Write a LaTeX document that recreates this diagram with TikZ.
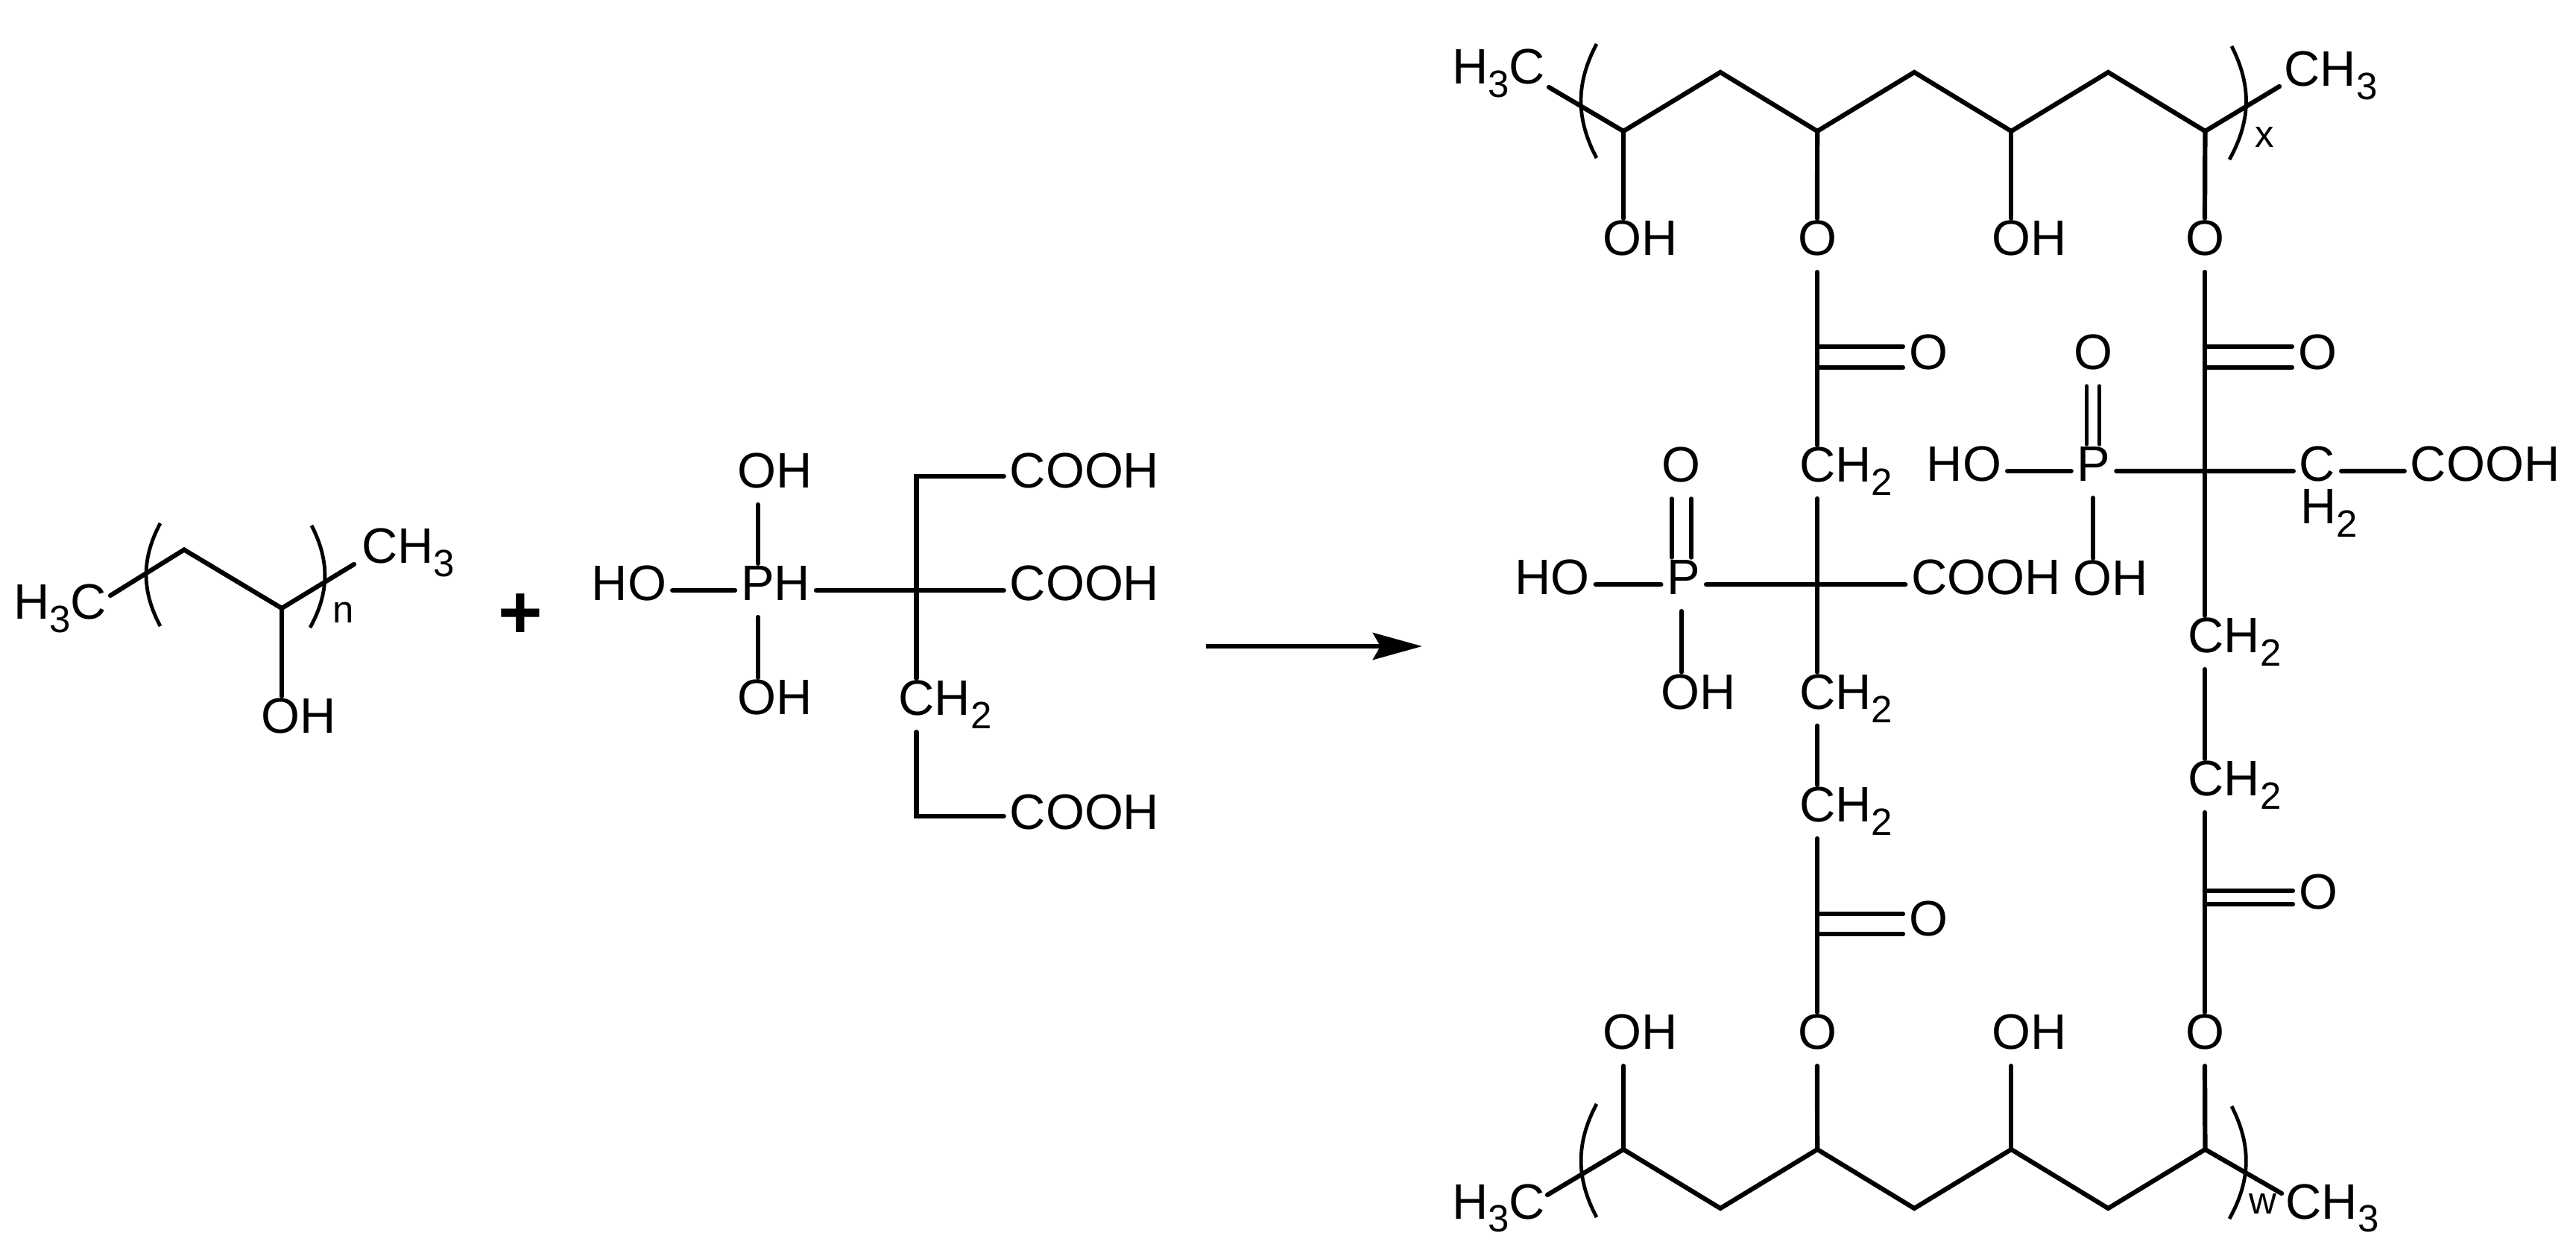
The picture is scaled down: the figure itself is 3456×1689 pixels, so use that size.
\documentclass[tikz,border=0pt]{standalone}
\usepackage{fontspec}
\setmainfont{Liberation Sans}
\usepackage{tikz}
\usetikzlibrary{positioning, arrows.meta}
\newcommand{\subnum}[1]{\raisebox{-0.175cm}{\fontsize{14.5}{16}\selectfont #1}}
\tikzset{
    atom_label/.style={
        font=\fontsize{19}{23}\selectfont,
        anchor=base,
        inner xsep=0.08cm,
        inner ysep=0pt,
        outer sep=0pt,
        text height=0.5cm,
        text depth=0.22cm
    },
    count_label/.style={
        font=\fontsize{14.5}{16}\selectfont,
        anchor=base,
        inner sep=0pt
    },
    plus_label/.style={
        font=\fontsize{29}{32}\selectfont\bfseries,
        inner sep=0pt
    },
    bond_line/.style={
        line width=0.062cm,
        line cap=round,
        line join=miter,
        draw=black
    },
    thin_bond/.style={
        bond_line,
        line width=0.055cm
    },
    bracket_arc/.style={
        line width=0.048cm,
        draw=black
    },
    reaction_arrow/.style={
        -{Stealth[length=0.66cm,width=0.36cm,inset=0.1cm]},
        line width=0.065cm,
        draw=black
    }
}
\begin{document}
\begin{tikzpicture}[x=0.01cm, y=-0.01cm, zig/.style={above right=0.79cm and 1.30cm of #1}, zag/.style={below right=0.79cm and 1.30cm of #1}]
    \useasboundingbox (0,0) rectangle (3456,1689);

    \node[atom_label] (a_h3c) at (80.5,831) {H\subnum{3}C};
    \node[atom_label] (a_ch3) at (547.5,756) {CH\subnum{3}};
    \node[atom_label] (a_oh) at (401,984) {OH};
    \node[count_label] (a_n) at (461,836) {n};
    \coordinate (a_e0) at (148,799);
    \coordinate (a_c1) at (247,737.5);
    \coordinate (a_c2) at (378,816);
    \coordinate (a_e1) at (475,757);
    \draw[bond_line] (a_e0) -- (a_c1) -- (a_c2) -- (a_e1);
    \draw[bond_line] (a_c2) edge (a_c2 |- a_oh.north);
    \coordinate (a_bl0) at (215,702);
    \coordinate (a_bl1) at (215,840);
    \coordinate (a_br0) at (418,705);
    \coordinate (a_br1) at (416,842);
    \draw[bracket_arc] (a_bl0) to[bend right=28] (a_bl1);
    \draw[bracket_arc] (a_br0) to[bend left=28] (a_br1);

    \node[plus_label] (plus) at (698,827) {+};

    \node[atom_label] (m_oh1) at (1040,655) {OH};
    \node[atom_label] (m_ho) at (844,806) {HO};
    \node[atom_label] (m_ph) at (1040.5,806) {PH};
    \node[atom_label] (m_oh2) at (1040,959) {OH};
    \node[atom_label] (m_ch2) at (1268,960) {CH\subnum{2}};
    \node[atom_label] (m_cooh1) at (1455,655) {COOH};
    \node[atom_label] (m_cooh2) at (1455,806) {COOH};
    \node[atom_label] (m_cooh3) at (1455,1112.5) {COOH};
    \coordinate (m_pc) at (1017,792);
    \coordinate (m_cc) at (1229.5,792);
    \coordinate (m_ct) at (1229.5,639);
    \coordinate (m_cb) at (1229.5,1095);
    \draw[bond_line]
        (m_ho) edge (m_ph)
        (m_ph) edge (m_cooh2)
        (m_oh1.south -| m_pc) edge (m_ph.north -| m_pc)
        (m_ph.south -| m_pc) edge (m_oh2.north -| m_pc);
    \draw[bond_line] (m_ct -| m_cooh1.west) -- (m_ct) -- (m_cc |- m_ch2.north);
    \draw[bond_line] (m_cc |- m_ch2.south) -- (m_cb) -- (m_cb -| m_cooh3.west);

    \coordinate (arrow_start) at (1618,867);
    \coordinate (arrow_end) at (1908,867);
    \draw[reaction_arrow] (arrow_start) -- (arrow_end);

    \coordinate (t0) at (2078,117);
    \coordinate (t1) at (2178,176);
    \coordinate[zig=t1] (t2);
    \coordinate[zag=t2] (t3);
    \coordinate[zig=t3] (t4);
    \coordinate[zag=t4] (t5);
    \coordinate[zig=t5] (t6);
    \coordinate[zag=t6] (t7);
    \coordinate (t8) at (3058,116);
    \draw[bond_line] (t0) -- (t1) -- (t2) -- (t3) -- (t4) -- (t5) -- (t6) -- (t7) -- (t8);

    \coordinate (b0) at (2076,1603);
    \coordinate (b1) at (2178,1542);
    \coordinate[zag=b1] (b2);
    \coordinate[zig=b2] (b3);
    \coordinate[zag=b3] (b4);
    \coordinate[zig=b4] (b5);
    \coordinate[zag=b5] (b6);
    \coordinate[zig=b6] (b7);
    \coordinate (b8) at (3061,1601);
    \draw[bond_line] (b0) -- (b1) -- (b2) -- (b3) -- (b4) -- (b5) -- (b6) -- (b7) -- (b8);

    \node[atom_label] (t_h3c) at (2010.5,113) {H\subnum{3}C};
    \node[atom_label] (t_ch3) at (3127,116) {CH\subnum{3}};
    \node[count_label] (t_x) at (3038,198) {x};
    \node[atom_label] (t_oh1) at (2201,343) {OH};
    \node[atom_label] (t_o1) at (2438,343) {O};
    \node[atom_label] (t_oh2) at (2722.5,343) {OH};
    \node[atom_label] (t_o2) at (2958,343) {O};

    \node[atom_label] (b_h3c) at (2010.5,1635) {H\subnum{3}C};
    \node[atom_label] (b_ch3) at (3129,1635) {CH\subnum{3}};
    \node[count_label] (b_w) at (3036,1628) {w};
    \node[atom_label] (b_oh1) at (2201,1408) {OH};
    \node[atom_label] (b_o1) at (2438,1408) {O};
    \node[atom_label] (b_oh2) at (2722.5,1408) {OH};
    \node[atom_label] (b_o2) at (2958,1408) {O};

    \draw[bond_line]
        (t1) edge (t1 |- t_oh1.north)
        (t3) edge (t_o1.north)
        (t5) edge (t5 |- t_oh2.north)
        (t7) edge (t_o2.north)
        (b1) edge (b1 |- b_oh1.south)
        (b3) edge (b_o1.south)
        (b5) edge (b5 |- b_oh2.south)
        (b7) edge (b_o2.south);

    \coordinate (t_bl0) at (2142,59);
    \coordinate (t_bl1) at (2142,212);
    \coordinate (t_br0) at (2994,62);
    \coordinate (t_br1) at (2991,214);
    \coordinate (b_bl0) at (2142,1481);
    \coordinate (b_bl1) at (2142,1633);
    \coordinate (b_br0) at (2994,1484);
    \coordinate (b_br1) at (2991,1635);
    \draw[bracket_arc] (t_bl0) to[bend right=28] (t_bl1);
    \draw[bracket_arc] (t_br0) to[bend left=28] (t_br1);
    \draw[bracket_arc] (b_bl0) to[bend right=28] (b_bl1);
    \draw[bracket_arc] (b_br0) to[bend left=28] (b_br1);

    \node[atom_label] (l_ch2a) at (2476.5,647) {CH\subnum{2}};
    \node[atom_label] (l_ch2b) at (2476.5,951.6) {CH\subnum{2}};
    \node[atom_label] (l_ch2c) at (2476.5,1103) {CH\subnum{2}};
    \node[atom_label] (l_o1) at (2587,496) {O};
    \node[atom_label] (l_o2) at (2587,1256) {O};
    \node[atom_label] (l_cooh) at (2664.5,798) {COOH};
    \node[atom_label] (l_p) at (2258.7,798) {P};
    \node[atom_label] (l_ho) at (2082.6,798) {HO};
    \node[atom_label] (l_po) at (2255.5,647) {O};
    \node[atom_label] (l_oh) at (2279,951.6) {OH};
    \coordinate (l_co1) at (2438,479);
    \coordinate (l_cc) at (2438,784);
    \coordinate (l_co2) at (2438,1239.5);
    \coordinate (l_pc) at (2256,784);

    \node[atom_label] (r_ch2a) at (2998,876) {CH\subnum{2}};
    \node[atom_label] (r_ch2b) at (2998,1068) {CH\subnum{2}};
    \node[atom_label] (r_o1) at (3109,496) {O};
    \node[atom_label] (r_o2) at (3110,1219.5) {O};
    \node[atom_label, text height=0.48cm, text depth=0pt] (r_c) at (3109,646) {C};
    \node[atom_label, text height=0.48cm, text depth=0pt] (r_h2) at (3125,703) {H\subnum{2}};
    \node[atom_label] (r_cooh) at (3334,646) {COOH};
    \node[atom_label] (r_p) at (2809,646) {P};
    \node[atom_label] (r_ho) at (2635,646) {HO};
    \node[atom_label] (r_po) at (2808.5,496) {O};
    \node[atom_label] (r_oh) at (2832,799) {OH};
    \coordinate (r_co1) at (2958,479);
    \coordinate (r_cc) at (2958,632);
    \coordinate (r_co2) at (2958,1204);
    \coordinate (r_pc) at (2808,632);

    \draw[bond_line]
        (t_o1.south) edge (l_ch2a.north -| t_o1)
        (l_ch2a.south -| l_cc) edge (l_ch2b.north -| l_cc)
        (l_ch2b.south -| l_cc) edge (l_ch2c.north -| l_cc)
        (l_ch2c.south -| l_cc) edge (b_o1.north)
        (t_o2.south) edge (r_ch2a.north -| t_o2)
        (r_ch2a.south -| r_cc) edge (r_ch2b.north -| r_cc)
        (r_ch2b.south -| r_cc) edge (b_o2.north)
        (l_p.south -| l_pc) edge (l_oh.north -| l_pc)
        (r_p.south -| r_pc) edge (r_oh.north -| r_pc);
    \draw[bond_line]
        (l_ho) edge (l_p)
        (l_p) edge (l_cooh)
        (r_ho) edge (r_p)
        (r_p) edge (r_cc -| r_c.west)
        (r_cc -| r_c.east) edge (r_cooh);
    \draw[bond_line]
        ([yshift=0.14cm]l_co1) -- ([yshift=0.14cm]l_co1 -| l_o1.west)
        ([yshift=-0.14cm]l_co1) -- ([yshift=-0.14cm]l_co1 -| l_o1.west)
        ([yshift=0.135cm]l_co2) -- ([yshift=0.135cm]l_co2 -| l_o2.west)
        ([yshift=-0.135cm]l_co2) -- ([yshift=-0.135cm]l_co2 -| l_o2.west)
        ([yshift=0.14cm]r_co1) -- ([yshift=0.14cm]r_co1 -| r_o1.west)
        ([yshift=-0.14cm]r_co1) -- ([yshift=-0.14cm]r_co1 -| r_o1.west)
        ([yshift=0.09cm]r_co2) -- ([yshift=0.09cm]r_co2 -| r_o2.west)
        ([yshift=-0.09cm]r_co2) -- ([yshift=-0.09cm]r_co2 -| r_o2.west);
    \draw[thin_bond]
        ([xshift=-0.13cm]l_pc |- l_p.north) -- ([xshift=-0.13cm]l_pc |- l_po.south)
        ([xshift=0.13cm]l_pc |- l_p.north) -- ([xshift=0.13cm]l_pc |- l_po.south)
        ([xshift=-0.085cm]r_pc |- r_p.north) -- ([xshift=-0.085cm]r_pc |- r_po.south)
        ([xshift=0.085cm]r_pc |- r_p.north) -- ([xshift=0.085cm]r_pc |- r_po.south);
\end{tikzpicture}
\end{document}
